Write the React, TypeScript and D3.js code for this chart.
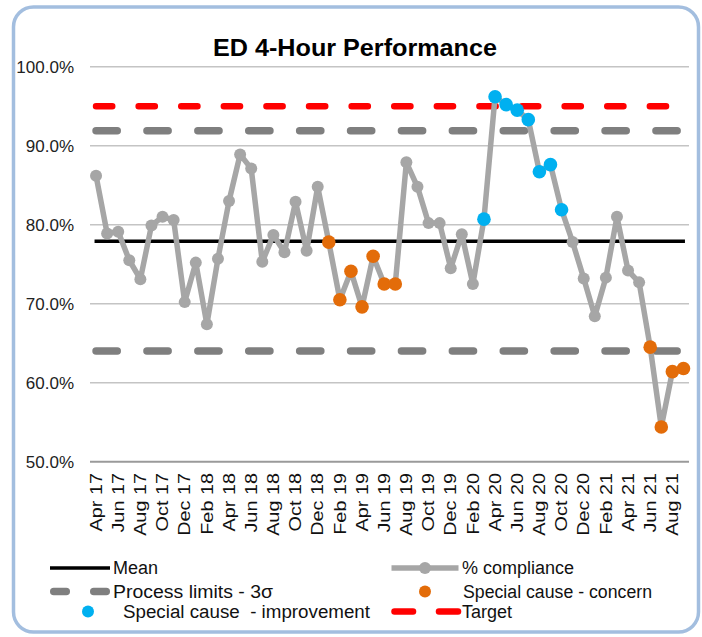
import React from "react";
import * as d3 from "d3";

const months = ["Apr","May","Jun","Jul","Aug","Sep","Oct","Nov","Dec","Jan","Feb","Mar"];
// 54 monthly categories: Apr 17 .. Sep 21
const categories: string[] = [];
{
  let yr = 17;
  for (let i = 0; i < 54; i++) {
    const m = months[i % 12];
    if (m === "Jan" && i > 0) yr += 1;
    categories.push(`${m} ${yr}`);
  }
}

const compliance = [
  86.2, 78.9, 79.1, 75.5, 73.1, 79.9, 81.0, 80.6, 70.2, 75.2,
  67.4, 75.7, 83.0, 88.9, 87.1, 75.3, 78.7, 76.5, 82.9, 76.7,
  84.8, 77.8, 70.5, 74.1, 69.6, 76.0, 72.5, 72.5, 87.9, 84.8,
  80.2, 80.2, 74.5, 78.8, 72.5, 80.7, 96.2, 95.2, 94.5, 93.3,
  86.7, 87.6, 81.9, 77.8, 73.2, 68.4, 73.3, 81.0, 74.2, 72.7,
  64.5, 54.4, 61.4, 61.8,
];

// special cause flags
const concernIdx = [21, 22, 23, 24, 25, 26, 27, 50, 51, 52, 53];
const improvementIdx = [35, 36, 37, 38, 39, 40, 41, 42];

const meanValue = 77.9;
const upperLimit = 91.9;
const lowerLimit = 64.0;
const targetValue = 95.0;

const yTicks = [50, 60, 70, 80, 90, 100];

const W = 702;
const H = 637;
const FONT = "'Liberation Sans', Arial, sans-serif";

export default function App() {
  const x = d3.scaleBand<string>().domain(categories).range([90.5, 689]);
  const cx = (c: string) => (x(c) as number) + x.bandwidth() / 2;
  const y = d3.scaleLinear().domain([50, 100]).range([461.7, 66.7]);

  const lineGen = d3
    .line<number>()
    .x((_, i) => cx(categories[i]))
    .y((d) => y(d));

  const x0 = cx(categories[0]);
  const x1 = cx(categories[categories.length - 1]);

  const tickCats = categories.filter((_, i) => i % 2 === 0);

  const legendY = [568, 591.5, 611.5];

  return (
    <svg
      width={W}
      height={H}
      style={{ position: "absolute", left: 0, top: 0, background: "#fff" }}
      fontFamily={FONT}
    >
      <rect x={0} y={0} width={W} height={H} fill="#fff" />
      <rect
        x={13.5}
        y={7}
        width={685}
        height={625}
        rx={20}
        fill="#fff"
        stroke="#A3BEDF"
        strokeWidth={3.5}
      />
      <text
        x={355}
        y={56}
        textAnchor="middle"
        fontSize={23}
        fontWeight="bold"
        fill="#000"
        textLength={284}
        lengthAdjust="spacingAndGlyphs"
      >
        ED 4-Hour Performance
      </text>

      {/* gridlines */}
      {yTicks.map((t) => (
        <g key={t}>
          <line
            x1={90}
            x2={689}
            y1={y(t)}
            y2={y(t)}
            stroke={t === 50 ? "#9A9A9A" : "#C4C4C4"}
            strokeWidth={t === 50 ? 2 : 1.6}
          />
          <text
            x={74}
            y={y(t)}
            dy="0.35em"
            textAnchor="end"
            fontSize={17}
            fill="#222"
          >
            {t.toFixed(1)}%
          </text>
        </g>
      ))}

      {/* x tick labels */}
      {tickCats.map((c) => (
        <text
          key={c}
          transform={`translate(${cx(c)},473) rotate(-90) scale(1.24,1)`}
          dy="0.36em"
          textAnchor="end"
          fontSize={16}
          fill="#111"
        >
          {c}
        </text>
      ))}

      {/* target */}
      <line
        x1={x0}
        x2={x1}
        y1={y(targetValue)}
        y2={y(targetValue)}
        stroke="#FF0000"
        strokeWidth={6.5}
        strokeDasharray="16.2 26.4"
        strokeLinecap="round"
      />
      {/* process limits */}
      {[upperLimit, lowerLimit].map((v) => (
        <line
          key={v}
          x1={x0}
          x2={x1}
          y1={y(v)}
          y2={y(v)}
          stroke="#7F7F7F"
          strokeWidth={7.5}
          strokeDasharray="21.2 29.7"
          strokeLinecap="round"
        />
      ))}
      {/* mean */}
      <line
        x1={x0 - 1.5}
        x2={x1 + 1.5}
        y1={y(meanValue)}
        y2={y(meanValue)}
        stroke="#000"
        strokeWidth={3.5}
      />

      {/* compliance line */}
      <path
        d={lineGen(compliance) || ""}
        fill="none"
        stroke="#A6A6A6"
        strokeWidth={5.5}
        strokeLinejoin="round"
      />
      {compliance.map((v, i) => {
        const isC = concernIdx.includes(i);
        const isI = improvementIdx.includes(i);
        return (
          <circle
            key={i}
            cx={cx(categories[i])}
            cy={y(v)}
            r={isC || isI ? 6.8 : 6}
            fill={isC ? "#E36C09" : isI ? "#00B0F0" : "#A6A6A6"}
          />
        );
      })}

      {/* legend */}
      <g fontSize={18} fill="#111">
        <line x1={50} x2={110} y1={legendY[0]} y2={legendY[0]} stroke="#000" strokeWidth={3.5} />
        <text x={113} y={legendY[0]} dy="0.35em">Mean</text>

        <line x1={53.75} x2={66.25} y1={legendY[1]} y2={legendY[1]} stroke="#7F7F7F" strokeWidth={7.5} strokeLinecap="round" />
        <line x1={93.75} x2={106.25} y1={legendY[1]} y2={legendY[1]} stroke="#7F7F7F" strokeWidth={7.5} strokeLinecap="round" />
        <text x={113} y={legendY[1]} dy="0.35em" textLength={160} lengthAdjust="spacingAndGlyphs">
          Process limits - 3σ
        </text>

        <circle cx={88} cy={legendY[2]} r={6} fill="#00B0F0" />
        <text
          x={123}
          y={legendY[2]}
          dy="0.35em"
          style={{ whiteSpace: "pre" }}
          textLength={247}
          lengthAdjust="spacingAndGlyphs"
        >
          {"Special cause  - improvement"}
        </text>

        <line x1={391.5} x2={458.5} y1={legendY[0]} y2={legendY[0]} stroke="#A6A6A6" strokeWidth={5.5} />
        <circle cx={425} cy={legendY[0]} r={6} fill="#A6A6A6" />
        <text x={462} y={legendY[0]} dy="0.35em">% compliance</text>

        <circle cx={425} cy={legendY[1]} r={6} fill="#E36C09" />
        <text x={463} y={legendY[1]} dy="0.35em" textLength={189} lengthAdjust="spacingAndGlyphs">
          Special cause - concern
        </text>

        <line x1={394.5} x2={413} y1={legendY[2]} y2={legendY[2]} stroke="#FF0000" strokeWidth={6.5} strokeLinecap="round" />
        <line x1={439} x2={458} y1={legendY[2]} y2={legendY[2]} stroke="#FF0000" strokeWidth={6.5} strokeLinecap="round" />
        <text x={462} y={legendY[2]} dy="0.35em">Target</text>
      </g>
    </svg>
  );
}
